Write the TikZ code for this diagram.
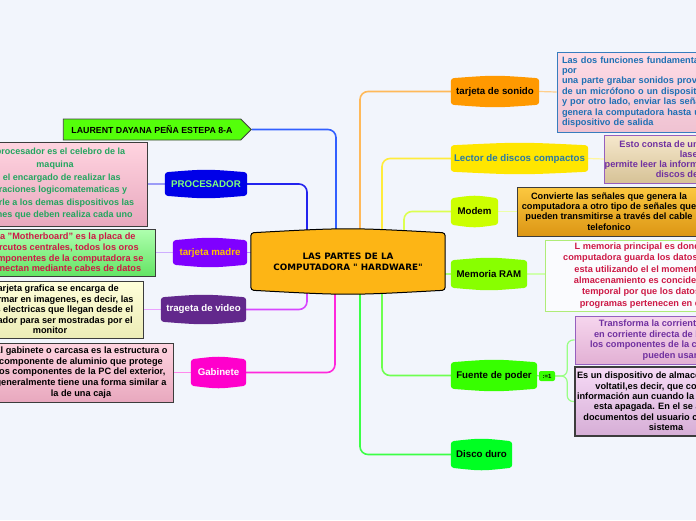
\documentclass[tikz,border=0pt]{standalone}
\usepackage{fontspec}
\setmainfont{Liberation Sans}
\newfontfamily\hubfont{DejaVu Sans}
\usetikzlibrary{positioning,calc,shapes.symbols,shadows}

\definecolor{pagebg}{RGB}{242,245,252}
\definecolor{hubc}{RGB}{253,181,21}
\definecolor{laurentc}{RGB}{84,255,10}
\definecolor{procbg}{RGB}{0,0,232}
\definecolor{procfg}{RGB}{125,255,125}
\definecolor{madrebg}{RGB}{127,0,255}
\definecolor{madrefg}{RGB}{255,192,0}
\definecolor{videobg}{RGB}{98,40,140}
\definecolor{gabbg}{RGB}{255,0,204}
\definecolor{sonidobg}{RGB}{255,153,0}
\definecolor{lectorbg}{RGB}{255,230,0}
\definecolor{lectorfg}{RGB}{40,122,165}
\definecolor{modembg}{RGB}{204,255,0}
\definecolor{rambg}{RGB}{136,255,0}
\definecolor{fuentebg}{RGB}{55,255,0}
\definecolor{discobg}{RGB}{0,255,34}
% connector colours
\definecolor{laurentl}{RGB}{50,95,255}
\definecolor{procl}{RGB}{35,35,238}
\definecolor{madrel}{RGB}{185,140,255}
\definecolor{videol}{RGB}{215,70,255}
\definecolor{gabl}{RGB}{255,40,220}
\definecolor{sonidol}{RGB}{255,185,90}
\definecolor{lectorl}{RGB}{255,236,60}
\definecolor{modeml}{RGB}{220,255,80}
\definecolor{raml}{RGB}{175,255,120}
\definecolor{fuentel}{RGB}{110,255,80}
\definecolor{discol}{RGB}{60,255,70}
% note colours
\definecolor{notepinkA}{RGB}{255,212,224}
\definecolor{notepinkB}{RGB}{232,168,190}
\definecolor{notegreenA}{RGB}{175,255,175}
\definecolor{notegreenB}{RGB}{100,228,100}
\definecolor{noteyelA}{RGB}{255,255,218}
\definecolor{noteyelB}{RGB}{236,236,182}
\definecolor{notetanA}{RGB}{246,232,205}
\definecolor{notetanB}{RGB}{214,194,150}
\definecolor{noteorA}{RGB}{252,200,64}
\definecolor{noteorB}{RGB}{220,150,20}
\definecolor{notelilA}{RGB}{246,214,238}
\definecolor{notelilB}{RGB}{226,176,212}
\definecolor{notemauA}{RGB}{246,218,246}
\definecolor{notemauB}{RGB}{214,174,214}
\definecolor{boxline}{RGB}{60,60,60}
\definecolor{blueline}{RGB}{55,125,190}
\definecolor{purpline}{RGB}{150,95,190}
\definecolor{greenline}{RGB}{175,236,120}
\definecolor{textgreen}{RGB}{35,165,95}
\definecolor{textred}{RGB}{205,25,70}
\definecolor{textblue}{RGB}{30,112,180}
\definecolor{textpurp}{RGB}{112,48,160}

\pgfdeclarelayer{back}
\pgfdeclarelayer{lines}
\pgfdeclarelayer{bg}
\pgfsetlayers{back,lines,bg,main}

% barrel shaped fill behind a topic node
\newcommand\blob[3][]{%
  \begin{pgfonlayer}{bg}
    \path[rounded corners=3pt, #1] (#2.north west) .. controls ($(#2.north)+(0,-#3)$) .. (#2.north east)
      -- (#2.south east) .. controls ($(#2.south)+(0,#3)$) .. (#2.south west) -- cycle;
  \end{pgfonlayer}}

\begin{document}
\begin{tikzpicture}[
    x=1pt, y=-1pt,
    topic/.style={
        inner sep=0pt, minimum height=26pt, align=center,
        font=\bfseries\fontsize{9.7}{11}\selectfont
    },
    note/.style={
        rectangle, draw=#1, line width=0.9pt, align=center, inner sep=0pt,
        font=\bfseries\fontsize{9.2}{10.5}\selectfont,
        drop shadow={opacity=0.35, shadow xshift=0.6pt, shadow yshift=-1.2pt}
    },
    note/.default=boxline,
    link/.style={line width=1.6pt, rounded corners=8pt},
    twig/.style={line width=1.2pt}
    ]

    \useasboundingbox (0,0) rectangle (696,520);
    \begin{pgfonlayer}{back}
        \fill[pagebg] (0,0) rectangle (696,520);
    \end{pgfonlayer}

    % ---------------- centre ----------------
    \node[inner sep=0pt, minimum width=194pt, minimum height=57pt, align=center,
          font=\hubfont\bfseries\fontsize{8.8}{11}\selectfont] (hub) at (348,261.5)
        {LAS PARTES DE LA\\COMPUTADORA " HARDWARE"};
    \blob[fill=hubc, draw=black, line width=1pt]{hub}{5.3}

    % ---------------- left side ----------------
    \node[signal, signal to=east, draw=black!75, line width=0.8pt, fill=laurentc,
          minimum width=188pt, minimum height=21pt, inner sep=0pt,
          font=\bfseries\fontsize{8.8}{10}\selectfont] (laurent) at (152,129.5)
        {LAURENT DAYANA PEÑA ESTEPA 8-A};

    \node[topic, minimum width=82pt, minimum height=23pt, text=procfg] (proc) at (206,184) {PROCESADOR};
    \blob[fill=procbg]{proc}{3.3}
    \node[note, top color=notepinkA, bottom color=notepinkB, text=textgreen,
          minimum width=184pt, minimum height=84pt,
          font=\bfseries\fontsize{9}{12.6}\selectfont] (procnote) at (55,184)
        {El procesador es el celebro de la\\maquina\\Es el encargado de realizar las\\operaciones logicomatematicas y\\enviarle a los demas dispositivos las\\ordenes que deben realiza cada uno};

    \node[topic, minimum width=74pt, minimum height=24pt, text=madrefg] (madre) at (210,252.5) {tarjeta madre};
    \blob[fill=madrebg]{madre}{3.3}
    \node[note, top color=notegreenA, bottom color=notegreenB, text=textred,
          minimum width=180pt, minimum height=47pt,
          font=\bfseries\fontsize{9.2}{10.7}\selectfont] (madrenote) at (65,252.5)
        {La "Motherboard"  es la placa  de\\circutos centrales, todos los oros\\componentes  de la computadora se\\conectan mediante cabes de datos};

    \node[topic, minimum width=85pt, minimum height=24pt, text=white] (video) at (203.5,309.5) {trageta de video};
    \blob[fill=videobg]{video}{3.3}
    \node[note, top color=noteyelA, bottom color=noteyelB, text=black,
          minimum width=186pt, minimum height=57pt] (videonote) at (50,309.5)
        {La tarjeta grafica se encarga de\\transformar en imagenes, es decir, las\\señales electricas que llegan desde el\\procesador para ser mostradas por el\\monitor};

    \node[topic, minimum width=55pt, text=white] (gab) at (218.5,372.5) {Gabinete};
    \blob[fill=gabbg]{gab}{3.3}
    \node[note, top color=notepinkA, bottom color=notepinkB, text=black,
          minimum width=184pt, minimum height=59pt,
          font=\bfseries\fontsize{9.2}{10.6}\selectfont] (gabnote) at (81,372.5)
        {El gabinete o carcasa es la estructura o\\componente de aluminio que protege\\los componentes de la PC del exterior,\\generalmente tiene una forma similar a\\la de una caja};

    % ---------------- right side ----------------
    \node[topic, minimum width=88pt] (sonido) at (495,91.5) {tarjeta de sonido};
    \blob[fill=sonidobg]{sonido}{3.3}
    \node[note=blueline, top color=notepinkA!80!white, bottom color=notepinkB!70!white, text=textblue,
          text width=192pt, inner xsep=5pt, minimum height=80pt, align=left,
          font=\bfseries\fontsize{9.2}{10.4}\selectfont] (sonidonote) at (658,92)
        {Las dos funciones fundamentales son,\\por\\una parte grabar sonidos provenientes\\de un micrófono o un dispositivo externo\\y por otro lado, enviar las señales que\\genera la computadora hasta un\\dispositivo de salida};

    \node[topic, minimum width=137pt, text=lectorfg] (lector) at (519.5,158.5) {Lector de discos compactos};
    \blob[fill=lectorbg]{lector}{3.3}
    \node[note=purpline, top color=notetanA, bottom color=notetanB, text=textpurp,
          minimum width=188pt, minimum height=48pt,
          font=\bfseries\fontsize{9.2}{10}\selectfont] (lectornote) at (700,159)
        {Esto consta de un haz de luz de rayo\\laser que\\permite leer la informacion guardada en los\\discos de CD o DVD};

    \node[topic, minimum width=47pt] (modem) at (474.5,211.5) {Modem};
    \blob[fill=modembg]{modem}{3.3}
    \node[note, top color=noteorA, bottom color=noteorB, text=black,
          minimum width=184pt, minimum height=49pt,
          font=\bfseries\fontsize{9.2}{10.4}\selectfont] (modemnote) at (609,211.5)
        {Convierte las señales que genera  la\\computadora a otro tipo de señales que\\pueden transmitirse a través del cable\\telefonico};

    \node[topic, minimum width=76pt, minimum height=27pt] (ram) at (489,274) {Memoria RAM};
    \blob[fill=rambg]{ram}{3.3}
    \node[note=greenline, fill=white!60!pagebg, text=textred,
          minimum width=200pt, minimum height=71pt,
          font=\bfseries\fontsize{9.2}{11.3}\selectfont] (ramnote) at (645,275.5)
        {L memoria principal es donde la\\computadora guarda los datos  el que\\esta utilizando el el momento, el\\almacenamiento es conciderado\\temporal por que los datos y\\programas pertenecen en ella};

    \node[topic, minimum width=86pt] (fuente) at (494,375.5) {Fuente de poder};
    \blob[fill=fuentebg]{fuente}{3.3}
    \node[fill=fuentebg, rounded corners=2pt, minimum width=16pt, minimum height=10pt,
          inner sep=0pt, font=\bfseries\fontsize{6}{6}\selectfont] (tag) at (547,376) {:=1};
    \coordinate (fork) at ($(tag.east)+(12,0)$);
    \node[note=purpline, top color=notelilA, bottom color=notelilB, text=textpurp,
          minimum width=190pt, minimum height=48pt,
          font=\bfseries\fontsize{9.2}{10.6}\selectfont] (fuenteA) at (670,340)
        {Transforma  la corriente eléctrica\\en corriente directa de bajo voltaje\\los componentes de la computadora\\pueden usar};
    \node[note, line width=1.4pt, top color=notemauA, bottom color=notemauB, text=black,
          minimum width=182pt, minimum height=69pt,
          font=\bfseries\fontsize{9.2}{10.4}\selectfont] (fuenteB) at (666,401.5)
        {Es un dispositivo de almacenamiento no\\voltatil,es decir,  que conserva la\\información aun cuando la computadora\\esta apagada. En el se alojan los\\documentos del usuario como los del\\sistema};

    \node[topic, minimum width=61pt] (disco) at (481.5,454.5) {Disco duro};
    \blob[fill=discobg]{disco}{3.3}

    % ---------------- connectors ----------------
    \begin{pgfonlayer}{lines}
        \draw[link, laurentl] (laurent.east) -| ([xshift=-12pt]hub.north);
        \draw[link, procl] (proc.east) -| ([xshift=-41pt]hub.north);
        \draw[link, madrel] (madre.east) -- (madre.east -| hub.west);
        \draw[link, videol] (video.east) -| ([xshift=-41pt]hub.south);
        \draw[link, gabl] (gab.east) -| ([xshift=-13pt]hub.south);

        \draw[link, sonidol] (sonido.west) -| ([xshift=12pt]hub.north);
        \draw[link, lectorl] (lector.west) -| ([xshift=34pt]hub.north);
        \draw[link, modeml] (modem.west) -| ([xshift=56pt]hub.north);
        \draw[link, raml] (ram.west) -- (ram.west -| hub.east);
        \draw[link, fuentel] (fuente.west) -| ([xshift=34pt]hub.south);
        \draw[link, discol] (disco.west) -| ([xshift=12pt]hub.south);

        \draw[twig, procl!45!white] (proc.west) -- (procnote.east);
        \draw[twig, madrel!70!white] (madre.west) -- (madrenote.east);
        \draw[twig, videol!50!white] (video.west) -- (videonote.east);
        \draw[twig, gabl!55!white] (gab.west) -- (gabnote.east);
        \draw[twig, sonidol!70!white] (sonido.east) -- (sonidonote.west);
        \draw[twig, lectorl!50!white] (lector.east) -- (lectornote.west);
        \draw[twig, modeml!50!white] (modem.east) -- (modemnote.west);
        \draw[twig, raml!60!white] (ram.east) -- (ram.east -| ramnote.west);
        \draw[twig, fuentel] (fuente.east) -- (tag.west);
        \draw[twig, fuentel!70!white, rounded corners=6pt] (tag.east) -- (fork) |- (fuenteA.west);
        \draw[twig, fuentel!70!white, rounded corners=6pt] (tag.east) -- (fork) |- (fuenteB.west);
    \end{pgfonlayer}
\end{tikzpicture}
\end{document}
